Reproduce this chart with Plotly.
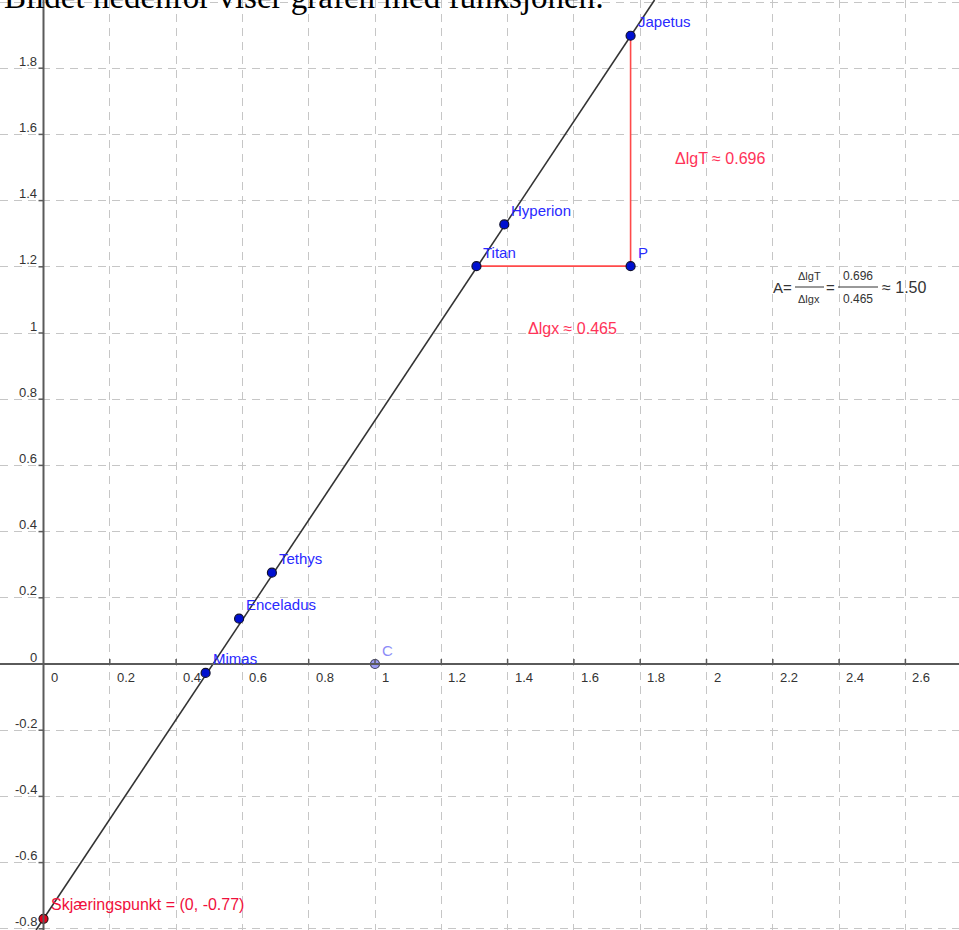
import plotly.graph_objects as go

# ---------------- data ----------------
moons = ["Mimas", "Enceladus", "Tethys", "Titan", "Hyperion", "Japetus"]
lg_x = [0.489, 0.590, 0.689, 1.306, 1.390, 1.771]
lg_T = [-0.027, 0.137, 0.276, 1.202, 1.328, 1.898]

point_P = (1.771, 1.202)
point_C = (1.0, 0.0)
intercept_pt = (0.0, -0.77)
line_slope = 1.506
line_intercept = -0.77

x_ticks = [0, 0.2, 0.4, 0.6, 0.8, 1, 1.2, 1.4, 1.6, 1.8, 2, 2.2, 2.4, 2.6]
x_tick_labels = ["0", "0.2", "0.4", "0.6", "0.8", "1", "1.2", "1.4", "1.6", "1.8", "2", "2.2", "2.4", "2.6"]
y_ticks = [-0.8, -0.6, -0.4, -0.2, 0, 0.2, 0.4, 0.6, 0.8, 1, 1.2, 1.4, 1.6, 1.8]
y_tick_labels = ["-0.8", "-0.6", "-0.4", "-0.2", "0", "0.2", "0.4", "0.6", "0.8", "1", "1.2", "1.4", "1.6", "1.8"]

d_lgT = 0.696
d_lgx = 0.465
A_value = 1.50

# ---------------- layout geometry ----------------
W, H = 959, 930
X0PX, XSCALE = 43.5, 331.5
Y0PX, YSCALE = 664.0, 331.0
xmin, xmax = -X0PX / XSCALE, (W - X0PX) / XSCALE
ymin, ymax = -(H - Y0PX) / YSCALE, Y0PX / YSCALE


def dx(px):
    return (px - X0PX) / XSCALE


def dy(py):
    return (Y0PX - py) / YSCALE


SANS = "Liberation Sans, Arial, sans-serif"
BLUE_TXT = "#2a2aff"
RED_TXT = "#ff3358"
RED_LINE = "#ff4a4a"
AX_COL = "#5a5a5a"

fig = go.Figure()

# regression line
lx = [(ymin - line_intercept) / line_slope, (ymax - line_intercept) / line_slope]
ly = [line_slope * v + line_intercept for v in lx]
fig.add_trace(go.Scatter(x=lx, y=ly, mode="lines",
                         line=dict(color="#333333", width=1.6), hoverinfo="skip"))

# red triangle legs: Titan -> P -> Japetus
fig.add_trace(go.Scatter(x=[lg_x[3], point_P[0], lg_x[5]],
                         y=[lg_T[3], point_P[1], lg_T[5]],
                         mode="lines", line=dict(color=RED_LINE, width=1.6),
                         hoverinfo="skip"))

# moons
fig.add_trace(go.Scatter(x=lg_x, y=lg_T, mode="markers",
                         marker=dict(size=9, color="#0010d0",
                                     line=dict(color="#101030", width=1.2)),
                         hoverinfo="skip"))
# P
fig.add_trace(go.Scatter(x=[point_P[0]], y=[point_P[1]], mode="markers",
                         marker=dict(size=9, color="#0010d0",
                                     line=dict(color="#101030", width=1.2)),
                         hoverinfo="skip"))
# C
fig.add_trace(go.Scatter(x=[point_C[0]], y=[point_C[1]], mode="markers",
                         marker=dict(size=9, color="#9c9cf4",
                                     line=dict(color="#404060", width=1.2)),
                         hoverinfo="skip"))
# intercept
fig.add_trace(go.Scatter(x=[intercept_pt[0]], y=[intercept_pt[1]], mode="markers",
                         marker=dict(size=9, color="#e8001c",
                                     line=dict(color="#301010", width=1.2)),
                         hoverinfo="skip"))

shapes = []
# axes lines
shapes.append(dict(type="line", xref="x", yref="y", x0=xmin, x1=xmax, y0=0, y1=0,
                   line=dict(color=AX_COL, width=2), layer="above"))
shapes.append(dict(type="line", xref="x", yref="y", x0=0, x1=0, y0=ymin, y1=ymax,
                   line=dict(color=AX_COL, width=2), layer="above"))
# tick marks
for t in x_ticks:
    if t == 0:
        continue
    shapes.append(dict(type="line", xref="x", yref="y", ysizemode="pixel", yanchor=0,
                       x0=t, x1=t, y0=0, y1=5, line=dict(color=AX_COL, width=1.5)))
for t in y_ticks:
    if t == 0:
        continue
    shapes.append(dict(type="line", xref="x", yref="y", xsizemode="pixel", xanchor=0,
                       x0=-5, x1=0, y0=t, y1=t, line=dict(color=AX_COL, width=1.5)))

annotations = []
# tick labels
for t, lab in zip(x_ticks, x_tick_labels):
    annotations.append(dict(x=t, y=0, xref="x", yref="y", text=lab, showarrow=False,
                            xanchor="left", yanchor="middle", xshift=5, yshift=-13,
                            font=dict(family=SANS, size=13, color="#333333")))
for t, lab in zip(y_ticks, y_tick_labels):
    annotations.append(dict(x=0, y=t, xref="x", yref="y", text=lab, showarrow=False,
                            xanchor="right", yanchor="middle", xshift=-5, yshift=7,
                            font=dict(family=SANS, size=13, color="#333333")))

# point labels
def point_label(x, y, text, color, size=15):
    annotations.append(dict(x=x, y=y, xref="x", yref="y", text=text, showarrow=False,
                            xanchor="left", yanchor="middle", xshift=5, yshift=14,
                            font=dict(family=SANS, size=size, color=color)))


for mx, my, name in zip(lg_x, lg_T, moons):
    point_label(mx, my, name, BLUE_TXT)
point_label(point_P[0], point_P[1], "P", BLUE_TXT)
point_label(point_C[0], point_C[1], "C", "#8c8cf8")
point_label(intercept_pt[0], intercept_pt[1],
            f"Skjæringspunkt = ({intercept_pt[0]:.0f}, {intercept_pt[1]:.2f})", "#f0103c", 16)

# delta labels
annotations.append(dict(x=dx(673), y=dy(158), xref="x", yref="y",
                        text=f"ΔlgT ≈ {d_lgT:.3f}", showarrow=False,
                        xanchor="left", yanchor="middle",
                        font=dict(family=SANS, size=16, color=RED_TXT)))
annotations.append(dict(x=dx(526), y=dy(328), xref="x", yref="y",
                        text=f"Δlgx ≈ {d_lgx:.3f}", showarrow=False,
                        xanchor="left", yanchor="middle",
                        font=dict(family=SANS, size=16, color=RED_TXT)))

# A formula
FCOL = "#333333"
annotations.append(dict(x=dx(771), y=dy(287), xref="x", yref="y", text="A=",
                        showarrow=False, xanchor="left", yanchor="middle",
                        font=dict(family=SANS, size=15, color=FCOL)))
annotations.append(dict(x=dx(809), y=dy(276), xref="x", yref="y", text="ΔlgT",
                        showarrow=False, xanchor="center", yanchor="middle",
                        font=dict(family=SANS, size=11, color=FCOL)))
annotations.append(dict(x=dx(809), y=dy(299), xref="x", yref="y", text="Δlgx",
                        showarrow=False, xanchor="center", yanchor="middle",
                        font=dict(family=SANS, size=11, color=FCOL)))
shapes.append(dict(type="line", xref="x", yref="y", x0=dx(795), x1=dx(824),
                   y0=dy(287), y1=dy(287), line=dict(color=FCOL, width=1)))
annotations.append(dict(x=dx(824), y=dy(287), xref="x", yref="y", text="=",
                        showarrow=False, xanchor="left", yanchor="middle",
                        font=dict(family=SANS, size=15, color=FCOL)))
annotations.append(dict(x=dx(858), y=dy(276), xref="x", yref="y", text=f"{d_lgT:.3f}",
                        showarrow=False, xanchor="center", yanchor="middle",
                        font=dict(family=SANS, size=12, color=FCOL)))
annotations.append(dict(x=dx(858), y=dy(299), xref="x", yref="y", text=f"{d_lgx:.3f}",
                        showarrow=False, xanchor="center", yanchor="middle",
                        font=dict(family=SANS, size=12, color=FCOL)))
shapes.append(dict(type="line", xref="x", yref="y", x0=dx(838), x1=dx(878),
                   y0=dy(287), y1=dy(287), line=dict(color=FCOL, width=1)))
annotations.append(dict(x=dx(880), y=dy(287), xref="x", yref="y", text=f"≈ {A_value:.2f}",
                        showarrow=False, xanchor="left", yanchor="middle",
                        font=dict(family=SANS, size=16, color=FCOL)))

# cropped document text at the very top
annotations.append(dict(x=0, y=1, xref="paper", yref="paper", xanchor="left",
                        yanchor="bottom", xshift=2, yshift=-17, showarrow=False,
                        text="Bildet nedenfor viser grafen med funksjonen:",
                        font=dict(family="Liberation Serif, DejaVu Serif, serif",
                                  size=33, color="#000000")))

grid = dict(showgrid=True, gridcolor="#c6c6c6", gridwidth=1, griddash="8px,6px",
            dtick=0.2, tick0=0, zeroline=False, showticklabels=False, ticks="",
            showline=False, fixedrange=True)

fig.update_layout(
    width=W, height=H,
    margin=dict(l=0, r=0, t=0, b=0),
    paper_bgcolor="white", plot_bgcolor="white",
    showlegend=False,
    xaxis=dict(range=[xmin, xmax], **grid),
    yaxis=dict(range=[ymin, ymax], **grid),
    shapes=shapes,
    annotations=annotations,
)

fig.write_html("out.html",
               config={"displayModeBar": False},
               post_script="document.body.style.margin='0';document.body.style.overflow='hidden';")
